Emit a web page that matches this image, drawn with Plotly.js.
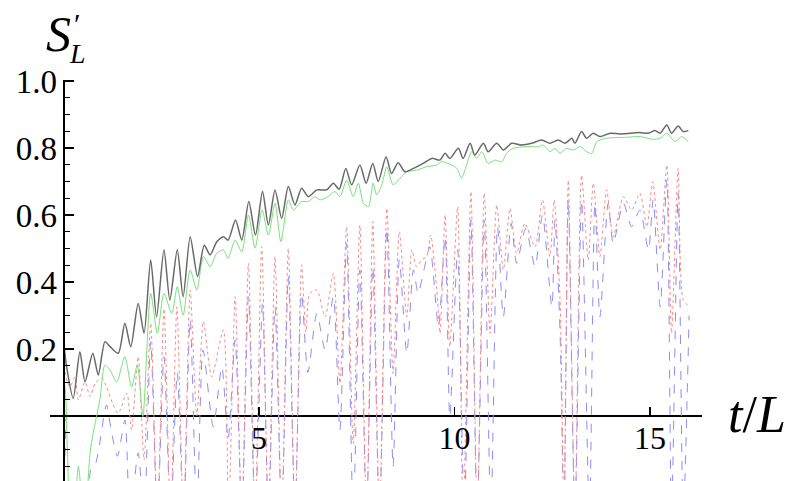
<!DOCTYPE html>
<html>
<head>
<meta charset="utf-8">
<script src="https://cdn.plot.ly/plotly-3.0.1.min.js"></script>
<style>html,body{margin:0;padding:0;background:#fff;}#chart{width:790px;height:481px;}</style>
</head>
<body>
<div id="chart"></div>
<script>
// ---- data ----
const xTickVals = [5, 10, 15];
const xTickText = ["5", "10", "15"];
const yTickVals = [0.2, 0.4, 0.6, 0.8, 1.0];
const yTickText = ["0.2", "0.4", "0.6", "0.8", "1.0"];

const xGray = [0.00,0.08,0.25,0.42,0.55,0.75,0.89,1.06,1.19,1.40,1.57,1.72,1.91,2.06,2.23,2.38,2.57,2.72,2.91,3.06,3.24,3.43,3.60,3.75,3.92,4.09,4.21,4.40,4.56,4.74,4.91,5.09,5.24,5.41,5.58,5.75,5.92,6.09,6.26,6.48,6.73,6.90,7.05,7.22,7.37,7.58,7.74,7.91,8.05,8.25,8.39,8.56,8.73,8.95,9.20,9.42,9.63,9.76,9.88,10.10,10.22,10.40,10.52,10.74,10.86,11.08,11.25,11.46,11.72,11.97,12.23,12.44,12.65,12.83,13.00,13.08,13.25,13.38,13.55,13.72,13.98,14.23,14.49,14.74,14.96,15.13,15.26,15.43,15.55,15.72,15.85,15.98];
const yGray = [0.227,0.147,0.053,0.192,0.102,0.187,0.122,0.222,0.207,0.187,0.277,0.207,0.336,0.247,0.466,0.296,0.496,0.346,0.496,0.356,0.535,0.416,0.510,0.481,0.520,0.535,0.525,0.585,0.525,0.640,0.540,0.670,0.570,0.675,0.590,0.685,0.630,0.680,0.655,0.675,0.675,0.695,0.677,0.739,0.690,0.749,0.695,0.754,0.700,0.774,0.724,0.756,0.729,0.739,0.754,0.769,0.764,0.784,0.769,0.799,0.769,0.814,0.779,0.814,0.789,0.814,0.794,0.814,0.809,0.814,0.824,0.814,0.824,0.814,0.829,0.814,0.849,0.829,0.844,0.834,0.844,0.842,0.844,0.846,0.844,0.852,0.844,0.869,0.844,0.866,0.849,0.852];

const xGreen = [0.00,0.04,0.10,0.18,0.30,0.38,0.45,0.55,0.68,0.76,0.93,1.06,1.19,1.36,1.57,1.74,1.89,2.03,2.23,2.40,2.57,2.77,2.91,3.06,3.24,3.41,3.58,3.75,3.92,4.09,4.21,4.39,4.56,4.73,4.90,5.08,5.24,5.41,5.56,5.75,5.88,6.09,6.26,6.43,6.56,6.77,6.94,7.07,7.24,7.41,7.54,7.67,7.80,7.92,8.01,8.14,8.27,8.43,8.61,8.78,9.03,9.29,9.54,9.67,9.93,10.06,10.18,10.31,10.44,10.57,10.70,10.86,11.04,11.21,11.33,11.50,11.80,12.14,12.27,12.44,12.57,12.70,12.87,13.04,13.21,13.38,13.51,13.64,13.89,14.40,14.74,15.08,15.26,15.43,15.64,15.81,15.98];
const yGreen = [0.100,0.087,-0.100,-0.300,-0.250,-0.150,-0.220,-0.300,-0.110,-0.050,0.048,0.152,0.137,0.102,0.177,0.087,0.152,-0.002,0.366,0.247,0.366,0.306,0.386,0.301,0.436,0.376,0.476,0.446,0.486,0.496,0.471,0.525,0.490,0.600,0.501,0.615,0.540,0.635,0.520,0.645,0.615,0.640,0.640,0.655,0.645,0.655,0.670,0.655,0.704,0.655,0.695,0.635,0.625,0.695,0.660,0.690,0.744,0.690,0.710,0.729,0.734,0.744,0.749,0.759,0.749,0.739,0.710,0.749,0.789,0.769,0.789,0.754,0.764,0.759,0.784,0.799,0.804,0.804,0.809,0.789,0.799,0.784,0.799,0.794,0.804,0.789,0.784,0.819,0.829,0.832,0.834,0.826,0.829,0.844,0.819,0.834,0.819];

const xRed = [0.00,0.10,0.17,0.29,0.38,0.55,0.68,0.81,0.98,1.10,1.25,1.40,1.62,1.74,1.91,2.06,2.23,2.40,2.57,2.74,2.90,3.07,3.24,3.41,3.58,3.79,4.09,4.22,4.39,4.56,4.73,4.90,5.07,5.24,5.41,5.58,5.75,5.92,6.09,6.20,6.30,6.48,6.69,6.90,7.07,7.24,7.41,7.58,7.75,7.91,8.08,8.27,8.43,8.59,8.78,8.91,9.03,9.16,9.29,9.39,9.54,9.63,9.76,9.88,10.08,10.22,10.42,10.58,10.76,10.91,11.08,11.25,11.42,11.59,11.80,12.06,12.25,12.44,12.55,12.70,12.80,12.91,13.08,13.25,13.42,13.55,13.72,13.89,14.06,14.32,14.53,14.74,14.92,15.07,15.26,15.43,15.55,15.72,15.85,15.98];
const yRed = [0.167,0.100,0.087,0.117,0.048,0.102,0.058,0.098,0.113,0.087,0.040,0.008,0.068,-0.042,0.177,-0.131,0.277,-0.300,0.320,-0.300,0.326,-0.300,0.376,0.000,0.282,0.117,0.257,-0.300,0.356,-0.300,0.456,-0.300,0.505,-0.300,0.476,-0.300,0.500,-0.300,0.451,0.250,0.366,0.376,0.296,0.426,0.098,0.565,-0.082,0.570,-0.300,0.580,-0.300,0.620,0.127,0.550,0.296,0.496,0.446,0.466,0.476,0.540,0.386,0.247,0.600,0.207,0.625,-0.300,0.670,-0.300,0.665,0.247,0.630,0.436,0.620,0.486,0.575,0.505,0.645,0.476,0.645,0.346,-0.300,0.704,-0.300,0.719,0.466,0.695,0.476,0.675,0.535,0.655,0.615,0.665,0.565,0.699,0.496,0.749,0.247,0.739,0.346,0.330];

const xBlue = [0.00,0.05,0.10,0.55,0.70,0.80,0.90,1.10,1.23,1.38,1.57,1.70,1.91,2.06,2.23,2.40,2.57,2.74,2.91,3.07,3.24,3.41,3.57,3.83,4.05,4.21,4.39,4.56,4.73,4.90,5.09,5.24,5.41,5.58,5.75,5.92,6.09,6.25,6.48,6.69,6.90,7.07,7.24,7.41,7.58,7.75,7.91,8.08,8.27,8.43,8.59,8.78,8.95,9.07,9.20,9.37,9.59,9.76,9.88,10.08,10.25,10.42,10.58,10.76,10.93,11.10,11.25,11.45,11.59,11.82,12.06,12.25,12.49,12.57,12.70,12.80,12.91,13.08,13.25,13.45,13.59,13.72,13.93,14.06,14.32,14.53,14.74,14.96,15.08,15.26,15.43,15.55,15.72,15.85,16.00];
const yBlue = [0.120,-0.050,-0.300,-0.300,-0.160,-0.150,-0.100,0.033,-0.050,-0.120,-0.012,-0.300,-0.110,-0.300,0.222,-0.300,0.177,-0.300,0.130,-0.300,0.287,-0.300,0.197,-0.032,0.147,-0.070,0.227,-0.300,0.356,-0.300,0.336,-0.300,0.326,-0.300,0.416,-0.300,0.366,0.130,0.306,0.197,0.356,-0.042,0.515,-0.300,0.436,-0.300,0.446,-0.300,0.560,-0.151,0.466,0.187,0.436,0.366,0.426,0.505,0.267,0.535,-0.002,0.496,-0.300,0.585,-0.300,0.585,-0.300,0.565,0.296,0.575,0.456,0.560,0.446,0.600,0.326,0.585,0.247,-0.300,0.645,-0.300,0.645,-0.300,0.635,0.296,0.635,0.515,0.635,0.565,0.615,0.496,0.645,0.326,0.704,-0.300,0.665,-0.300,0.300];

// ---- chart ----
const serif = "Liberation Serif, Times New Roman, serif";
const traces = [
  {x: xBlue, y: yBlue, mode: "lines", line: {color: "rgb(140,140,245)", width: 1, dash: "dash", shape: "spline", smoothing: 0.7}, hoverinfo: "skip"},
  {x: xRed, y: yRed, mode: "lines", line: {color: "rgb(245,140,140)", width: 1, dash: "dot", shape: "spline", smoothing: 0.7}, hoverinfo: "skip"},
  {x: xGreen, y: yGreen, mode: "lines", line: {color: "rgb(120,225,120)", width: 1, shape: "spline", smoothing: 0.7}, hoverinfo: "skip"},
  {x: xGray, y: yGray, mode: "lines", line: {color: "rgb(105,105,105)", width: 1.5, shape: "spline", smoothing: 0.7}, hoverinfo: "skip"}
];

const layout = {
  width: 790, height: 481,
  margin: {l: 50, r: 88, t: 80, b: 0, pad: 0},
  paper_bgcolor: "#fff", plot_bgcolor: "#fff",
  showlegend: false,
  xaxis: {
    range: [-0.345, 16.33],
    anchor: "free", position: 0.162,
    showgrid: false, zeroline: false, showline: false,
    tickmode: "array", tickvals: xTickVals, ticktext: xTickText,
    ticks: "inside", ticklen: 9, tickwidth: 1.3, tickcolor: "#000",
    tickfont: {family: serif, size: 32, color: "#000"},
    layer: "above traces"
  },
  yaxis: {
    range: [-0.194, 1.003],
    anchor: "free", position: 0.0207,
    showgrid: false,
    zeroline: true, zerolinecolor: "#000", zerolinewidth: 1.3,
    showline: true, linecolor: "#000", linewidth: 1.3,
    tickmode: "array", tickvals: yTickVals, ticktext: yTickText,
    ticks: "inside", ticklen: 9, tickwidth: 1.3, tickcolor: "#000",
    minor: {dtick: 0.05, tick0: 0, ticks: "inside", ticklen: 5, tickwidth: 1.1, tickcolor: "#000"},
    tickfont: {family: serif, size: 33, color: "#000"},
    layer: "above traces"
  },
  annotations: [
    {xref: "paper", yref: "paper", x: 0, y: 1.0, xshift: -6, yshift: 46, xanchor: "left", yanchor: "middle", showarrow: false,
     text: "<i>S</i>", font: {family: serif, size: 50, color: "#000"}},
    {xref: "paper", yref: "paper", x: 0, y: 1.0, xshift: 22, yshift: 57, xanchor: "left", yanchor: "middle", showarrow: false,
     text: "′", font: {family: serif, size: 30, color: "#000"}},
    {xref: "paper", yref: "paper", x: 0, y: 1.0, xshift: 17, yshift: 27, xanchor: "left", yanchor: "middle", showarrow: false,
     text: "<i>L</i>", font: {family: serif, size: 28, color: "#000"}},
    {xref: "paper", yref: "paper", x: 1.0, y: 0.162, xshift: 24, yshift: 2, xanchor: "left", yanchor: "middle", showarrow: false,
     text: "<i>t</i>/<i>L</i>", font: {family: serif, size: 52, color: "#000"}}
  ]
};

Plotly.newPlot("chart", traces, layout, {staticPlot: true, displayModeBar: false});
</script>
</body>
</html>
